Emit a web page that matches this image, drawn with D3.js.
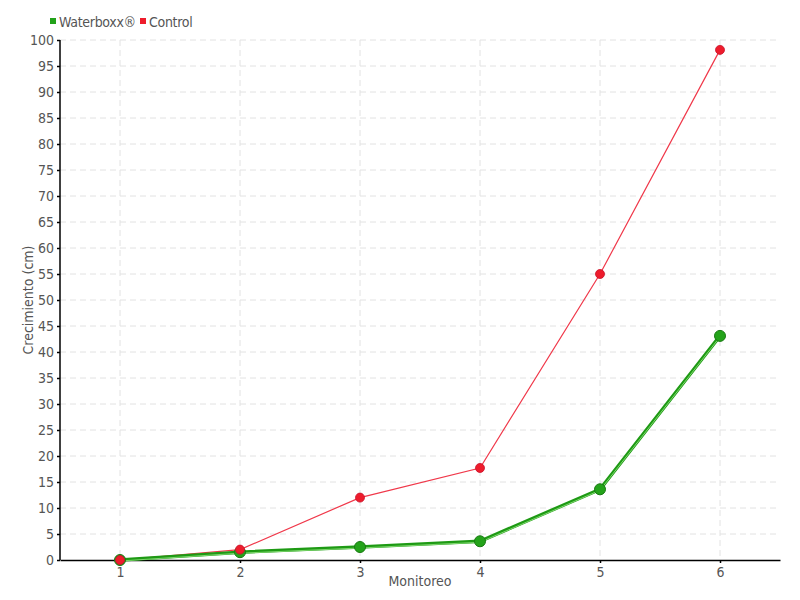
<!DOCTYPE html>
<html>
<head>
<meta charset="utf-8">
<script src="https://cdn.jsdelivr.net/npm/d3@7"></script>
<style>
  body { margin: 0; background: #fff; }
  text { font-family: "DejaVu Sans Condensed", "Liberation Sans Narrow", sans-serif; fill: #555; }
</style>
</head>
<body>
<div id="chart"></div>
<script>
// data
const monitoreo = [1, 2, 3, 4, 5, 6];
const waterboxx = [0, 1.5, 2.5, 3.6, 13.6, 43.1];
const control = [0, 2, 12, 17.7, 55, 98.1];
const yTicks = d3.range(0, 101, 5);

var margin = { top: 40, right: 20, bottom: 40, left: 60 },
    width = 800 - margin.left - margin.right,
    height = 600 - margin.top - margin.bottom;

var svg = d3.select("#chart")
    .append("svg")
    .attr("width", 800)
    .attr("height", 600)
    .append("g")
    .attr("transform", "translate(" + margin.left + "," + margin.top + ")");

var x = d3.scaleLinear().domain([0.5, 6.5]).range([0, width]);
var y = d3.scaleLinear().domain([0, 100]).range([height, 0]);

// grid
svg.selectAll(".hgrid")
    .data(yTicks.filter(d => d > 0))
    .enter().append("line")
    .attr("x1", 0).attr("x2", width)
    .attr("y1", d => y(d)).attr("y2", d => y(d))
    .style("stroke", "#e2e2e2")
    .style("stroke-dasharray", "6,4");

svg.selectAll(".vgrid")
    .data(monitoreo)
    .enter().append("line")
    .attr("x1", d => x(d)).attr("x2", d => x(d))
    .attr("y1", 0).attr("y2", height)
    .style("stroke", "#e2e2e2")
    .style("stroke-dasharray", "6,4");

// axes
var yAxis = svg.append("g")
    .call(d3.axisLeft(y).tickValues(yTicks).tickSize(3).tickPadding(3));
var xAxis = svg.append("g")
    .attr("transform", "translate(0," + height + ")")
    .call(d3.axisBottom(x).tickValues(monitoreo).tickFormat(d3.format("d"))
        .tickSize(3).tickPadding(4).tickSizeOuter(0));

[yAxis, xAxis].forEach(function (a) {
    a.select(".domain").style("stroke", "#000").style("stroke-width", 1.5);
    a.selectAll(".tick line").style("stroke", "#000").style("stroke-width", 1.5);
    a.selectAll("text").style("font-size", "14px").style("fill", "#555")
        .style("font-family", "'DejaVu Sans Condensed', sans-serif");
});
yAxis.select(".domain").attr("d", "M0," + height + "V0");

// axis titles
svg.append("text")
    .attr("x", width / 2).attr("y", height + 26)
    .attr("text-anchor", "middle")
    .style("font-size", "14px")
    .text("Monitoreo");

svg.append("text")
    .attr("transform", "translate(-27," + (height / 2) + ") rotate(-90)")
    .attr("text-anchor", "middle")
    .style("font-size", "14px")
    .text("Crecimiento (cm)");

var line = d3.line()
    .x((d, i) => x(monitoreo[i]))
    .y(d => y(d));

// control series
svg.append("path")
    .datum(control)
    .attr("d", line)
    .style("fill", "none")
    .style("stroke", "#f0384a")
    .style("stroke-width", 1.2);

// waterboxx series
svg.append("path")
    .datum(waterboxx)
    .attr("d", line)
    .style("fill", "none")
    .style("stroke", "#1e9a14")
    .style("stroke-width", 3.5);
svg.append("path")
    .datum(waterboxx)
    .attr("d", line)
    .attr("transform", "translate(0,1)")
    .style("fill", "none")
    .style("stroke", "#7fd86e")
    .style("stroke-width", 1);

svg.selectAll(".wdot")
    .data(waterboxx)
    .enter().append("circle")
    .attr("cx", (d, i) => x(monitoreo[i]))
    .attr("cy", d => y(d))
    .attr("r", 5.5)
    .style("fill", "#24a31a")
    .style("stroke", "#187a12")
    .style("stroke-width", 1);

svg.selectAll(".cdot")
    .data(control)
    .enter().append("circle")
    .attr("cx", (d, i) => x(monitoreo[i]))
    .attr("cy", d => y(d))
    .attr("r", 4.5)
    .style("fill", "#ee1c2c")
    .style("stroke", "#c8102a")
    .style("stroke-width", 0.8);

// legend
var legend = d3.select("svg").append("g");
var items = [{ name: "Waterboxx®", color: "#22a21a", x: 50 }, { name: "Control", color: "#ee1c2c", x: 140 }];
legend.selectAll("rect")
    .data(items)
    .enter().append("rect")
    .attr("x", d => d.x).attr("y", 18)
    .attr("width", 6).attr("height", 6)
    .style("fill", d => d.color);
legend.selectAll("text")
    .data(items)
    .enter().append("text")
    .attr("x", d => d.x + 9).attr("y", 27)
    .style("font-size", "14px")
    .style("letter-spacing", "-0.3px")
    .text(d => d.name);
</script>
</body>
</html>
